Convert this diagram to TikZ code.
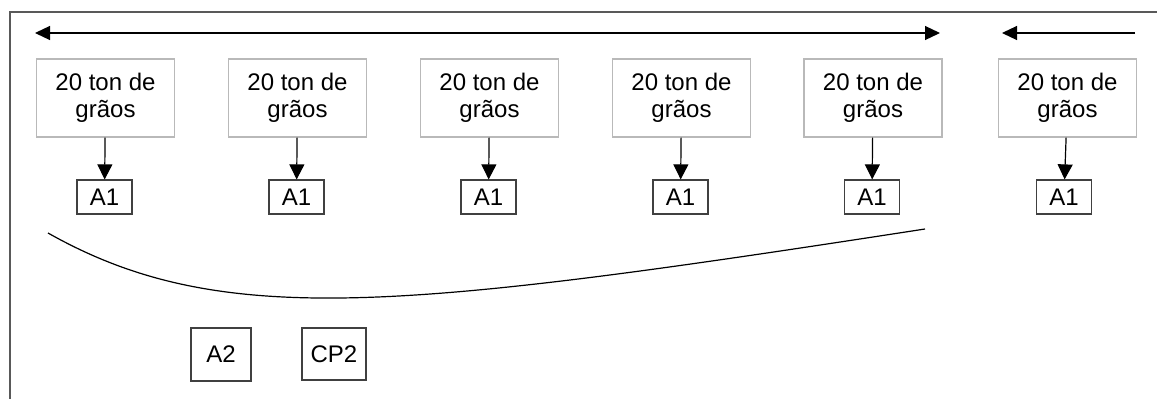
\documentclass[tikz,border=0pt]{standalone}
\usepackage{fontspec}
\setmainfont{Liberation Sans}
\usepackage{tikz}
\usetikzlibrary{positioning,arrows.meta}

\begin{document}
\begin{tikzpicture}[
  x=1pt, y=-1pt,
  font=\fontsize{24pt}{27pt}\selectfont,
  lote/.style={draw=gray!55, line width=1.2pt, minimum width=138pt, minimum height=78pt,
               align=center, inner sep=0pt},
  lbl/.style={draw=black!75, line width=1.2pt, minimum width=55pt, minimum height=34pt, inner sep=0pt},
  lblbig/.style={lbl, minimum height=53pt},
  flow/.style={-{Triangle[length=15pt,width=15pt]}, line width=1.2pt},
  span/.style={line width=1.2pt}
]
  \useasboundingbox (0,0) rectangle (1157,399);
  % frame
  \draw[gray!70!black, line width=2pt] (1157,12) -- (10,12) -- (10,399);

  \coordinate (spanL) at (35,33);
  \coordinate (spanR) at (940,33);
  \coordinate (nextR) at (1135,33);
  \coordinate (nextL) at (1002,33);
  \draw[span, {Triangle[length=15pt,width=14pt]}-{Triangle[length=15pt,width=14pt]}] (spanL) -- (spanR);
  \draw[span, -{Triangle[length=15pt,width=14pt]}] (nextR) -- (nextL);

  \node[lote] (g1) at (105.5,98) {20 ton de\\grãos};
  \node[lote] (g2) at (297.5,98) {20 ton de\\grãos};
  \node[lote] (g3) at (489.5,98) {20 ton de\\grãos};
  \node[lote] (g4) at (681.5,98) {20 ton de\\grãos};
  \node[lote] (g5) at (873,98) {20 ton de\\grãos};
  \node[lote] (g6) at (1067.5,98) {20 ton de\\grãos};

  \node[lbl] (a1) at (104.5,197) {A1};
  \node[lbl] (a2) at (296.5,197) {A1};
  \node[lbl] (a3) at (488.5,197) {A1};
  \node[lbl] (a4) at (680.5,197) {A1};
  \node[lbl] (a5) at (872,197) {A1};
  \node[lbl] (a6) at (1064,197) {A1};

  \draw[flow] (g1) -- (a1);
  \draw[flow] (g2) -- (a2);
  \draw[flow] (g3) -- (a3);
  \draw[flow] (g4) -- (a4);
  \draw[flow] (g5) -- (a5);
  \draw[flow] (g6) -- (a6);

  \coordinate (arcL) at (48,233);
  \coordinate (arcR) at (925,229);
  \draw[line width=1.2pt] (arcL) .. controls (220,330) and (400,310) .. (arcR);

  \node[lblbig, minimum width=60pt] (sa2) at (221,354.5) {A2};
  \node[lblbig, minimum width=64pt, minimum height=52pt] (cp2) at (334,354) {CP2};
\end{tikzpicture}
\end{document}
